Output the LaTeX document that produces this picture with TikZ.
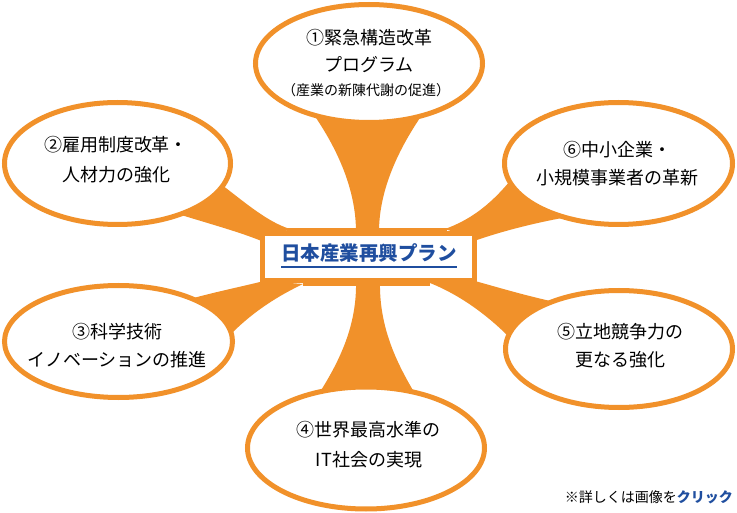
\documentclass[tikz,border=0pt]{standalone}
\usepackage{fontspec}
\setmainfont{Noto Sans CJK JP}
\usetikzlibrary{shapes.geometric}
\definecolor{orng}{RGB}{241,145,42}
\definecolor{ttl}{RGB}{31,78,159}
\begin{document}
\begin{tikzpicture}[x=1pt,y=-1pt,
  bubble/.style={ellipse, draw=orng, line width=5pt, fill=white, inner sep=0pt},
  arm/.style={fill=orng},
  ln/.style={anchor=base, inner sep=0pt, font=\fontsize{18}{20}\selectfont},
  sm/.style={anchor=base, inner sep=0pt, font=\fontsize{14}{16}\selectfont}]
\fill[white] (0,0) rectangle (737,513);
\useasboundingbox (0,0) rectangle (737,513);
% arms
\fill[arm] (312,112) .. controls (342,155) and (356,195) .. (356,232) -- (379,232) .. controls (379,195) and (394,155) .. (424,112) -- cycle;
\fill[arm] (222,185) .. controls (248,205) and (268,222) .. (290,229) -- (264,242) .. controls (240,232) and (210,224) .. (178,214) -- (150,170) -- cycle;
\fill[arm] (190,299) .. controls (215,292) and (240,287) .. (264,281) -- (303,284) .. controls (280,295) and (255,310) .. (232,333) -- (150,330) -- cycle;
\fill[arm] (356,281) .. controls (357,325) and (340,360) .. (320,392) -- (366,440) -- (414,392) .. controls (395,360) and (379,325) .. (380,281) -- cycle;
\fill[arm] (475,281) .. controls (500,288) and (527,296) .. (555,302) -- (600,340) -- (508,336) .. controls (487,315) and (460,295) .. (430,283) -- cycle;
\fill[arm] (510,181) .. controls (490,205) and (470,220) .. (445,229) -- (477,240) .. controls (500,232) and (530,224) .. (562,218) -- (600,170) -- cycle;
\fill[arm] (287,228) rectangle (447,245);
\fill[arm] (303,270) rectangle (430,286);
% bubbles
\node[bubble, minimum width=227pt, minimum height=118pt] (e1) at (369,63.5) {};
\node[bubble, minimum width=226pt, minimum height=122pt] (e2) at (117.5,163.5) {};
\node[bubble, minimum width=228pt, minimum height=112pt] (e3) at (118.5,341.5) {};
\node[bubble, minimum width=237pt, minimum height=122pt] (e4) at (366,448) {};
\node[bubble, minimum width=227pt, minimum height=117pt] (e5) at (619,349) {};
\node[bubble, minimum width=228pt, minimum height=122pt] (e6) at (618.5,163.5) {};
% hub
\node[draw=orng, line width=5pt, fill=white, minimum width=212pt, minimum height=47pt, inner sep=0pt] (hub) at (368.5,257) {};
\node[anchor=base, inner sep=0pt, text=ttl, font=\fontsize{19.5}{22}\selectfont\bfseries] (title) at (369,260.5) {日本産業再興プラン};
\draw[ttl, line width=1.3pt] ([yshift=-6.5pt]title.base west) -- ([yshift=-6.5pt]title.base east);
% texts
\node[ln] (t1a) at (369,44.8) {①緊急構造改革};
\node[ln] (t1b) at (369,71.8) {プログラム};
\node[sm] (t1c) at (366,95.5) {（産業の新陳代謝の促進）};
\node[ln] (t2a) at (116,151.8) {②雇用制度改革・};
\node[ln] (t2b) at (116,181.8) {人材力の強化};
\node[ln] (t3a) at (117,338.8) {③科学技術};
\node[ln] (t3b) at (117,366.8) {イノベーションの推進};
\node[ln] (t4a) at (368,436.8) {④世界最高水準の};
\node[ln] (t4b) at (369,466.8) {IT社会の実現};
\node[ln] (t5a) at (620,338.8) {⑤立地競争力の};
\node[ln] (t5b) at (620,366.8) {更なる強化};
\node[ln] (t6a) at (617,156.8) {⑥中小企業・};
\node[ln] (t6b) at (617,184.8) {小規模事業者の革新};
\node[anchor=base east, inner sep=0pt, font=\fontsize{14}{16}\selectfont] (note) at (733,502) {※詳しくは画像を{\color{ttl}\bfseries クリック}};
\end{tikzpicture}
\end{document}
